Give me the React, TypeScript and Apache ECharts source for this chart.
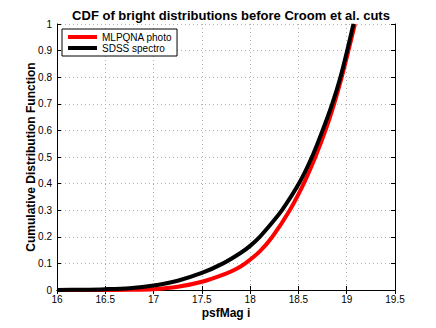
import React, { useEffect, useRef } from "react";
import * as echarts from "echarts";

const xTicks = [16, 16.5, 17, 17.5, 18, 18.5, 19, 19.5];
const yTicks = [0, 0.1, 0.2, 0.3, 0.4, 0.5, 0.6, 0.7, 0.8, 0.9, 1];

// MLPQNA photo (red) — psfMag i vs CDF
const mlpqnaX = [16.0, 16.5, 16.75, 17.0, 17.25, 17.5, 17.75, 17.86, 17.95, 18.1, 18.23, 18.41, 18.555, 18.675, 18.78, 18.87, 18.948, 19.018, 19.085];
const mlpqnaY = [0, 0, 0.0005, 0.003, 0.012, 0.031, 0.062, 0.08, 0.1, 0.145, 0.2, 0.3, 0.4, 0.5, 0.6, 0.7, 0.8, 0.9, 1.0];

// SDSS spectro (black)
const sdssX = [16.0, 16.25, 16.5, 16.75, 17.0, 17.25, 17.5, 17.72, 17.9, 18.0, 18.1, 18.22, 18.33, 18.505, 18.64, 18.75, 18.85, 18.935, 19.005, 19.07];
const sdssY = [0, 0.001, 0.003, 0.007, 0.017, 0.035, 0.064, 0.1, 0.139, 0.166, 0.2, 0.25, 0.3, 0.4, 0.5, 0.6, 0.7, 0.8, 0.9, 1.0];

const FONT = "Liberation Sans, Arial, Helvetica, sans-serif";

export default function App() {
  const ref = useRef<HTMLDivElement>(null);
  useEffect(() => {
    const chart = echarts.init(ref.current!, null, { renderer: "svg" });
    const pairs = (xs: number[], ys: number[]) => xs.map((x, i) => [x, ys[i]]);
    const gridLine = { show: true, lineStyle: { color: "#b0b0b0", type: [1, 3] as any, width: 1 } };
    chart.setOption({
      animation: false,
      backgroundColor: "#ffffff",
      textStyle: { fontFamily: FONT },
      title: {
        text: "CDF of bright distributions before Croom et al. cuts",
        left: 226,
        textAlign: "center",
        top: 4,
        textStyle: { fontSize: 13, fontWeight: "bold", color: "#000", fontFamily: FONT },
      },
      legend: {
        left: 62,
        top: 29,
        orient: "vertical",
        itemWidth: 29,
        itemHeight: 4,
        itemGap: 1,
        padding: [3, 5, 3, 6],
        borderColor: "#000",
        borderWidth: 1,
        backgroundColor: "#fff",
        icon: "rect",
        textStyle: { fontSize: 10, color: "#000", fontFamily: FONT },
        data: ["MLPQNA photo", "SDSS spectro"],
      },
      grid: { left: 57, right: 41, top: 24, bottom: 38, show: false },
      xAxis: [
        {
          type: "value",
          min: xTicks[0],
          max: xTicks[xTicks.length - 1],
          interval: 0.5,
          name: "psfMag i",
          nameLocation: "middle",
          nameGap: 17,
          nameMoveOverlap: false,
          nameTextStyle: { fontSize: 12, fontWeight: "bold", color: "#000", fontFamily: FONT },
          axisLine: { show: true, lineStyle: { color: "#000", width: 1 } },
          axisTick: { show: true, inside: true, length: 4, lineStyle: { color: "#000" } },
          axisLabel: { fontSize: 10, color: "#000", margin: 4, formatter: (v: number) => String(v) },
          splitLine: gridLine,
        },
        {
          type: "value",
          min: xTicks[0],
          max: xTicks[xTicks.length - 1],
          interval: 0.5,
          position: "top",
          axisLine: { show: true, lineStyle: { color: "#000", width: 1 } },
          axisTick: { show: true, inside: true, length: 4, lineStyle: { color: "#000" } },
          axisLabel: { show: false },
          splitLine: { show: false },
        },
      ],
      yAxis: [
        {
          type: "value",
          min: yTicks[0],
          max: yTicks[yTicks.length - 1],
          interval: 0.1,
          name: "Cumulative Distribution Function",
          nameLocation: "middle",
          nameGap: 20,
          nameMoveOverlap: false,
          nameTextStyle: { fontSize: 12, fontWeight: "bold", color: "#000", fontFamily: FONT },
          axisLine: { show: true, lineStyle: { color: "#000", width: 1 } },
          axisTick: { show: true, inside: true, length: 4, lineStyle: { color: "#000" } },
          axisLabel: { fontSize: 10, color: "#000", margin: 5, formatter: (v: number) => String(Math.round(v * 10) / 10) },
          splitLine: gridLine,
        },
        {
          type: "value",
          min: yTicks[0],
          max: yTicks[yTicks.length - 1],
          interval: 0.1,
          position: "right",
          axisLine: { show: true, lineStyle: { color: "#000", width: 1 } },
          axisTick: { show: true, inside: true, length: 4, lineStyle: { color: "#000" } },
          axisLabel: { show: false },
          splitLine: { show: false },
        },
      ],
      series: [
        {
          name: "MLPQNA photo",
          type: "line",
          data: pairs(mlpqnaX, mlpqnaY),
          smooth: 0.3,
          showSymbol: false,
          symbol: "none",
          lineStyle: { color: "#ff0000", width: 4 },
          itemStyle: { color: "#ff0000" },
          clip: true,
        },
        {
          name: "SDSS spectro",
          type: "line",
          data: pairs(sdssX, sdssY),
          smooth: 0.3,
          showSymbol: false,
          symbol: "none",
          lineStyle: { color: "#000000", width: 4 },
          itemStyle: { color: "#000000" },
          clip: true,
        },
      ],
    });
    return () => chart.dispose();
  }, []);
  return (
    <div
      ref={ref}
      style={{ position: "fixed", left: 0, top: 0, width: 436, height: 328, background: "#fff" }}
    />
  );
}
